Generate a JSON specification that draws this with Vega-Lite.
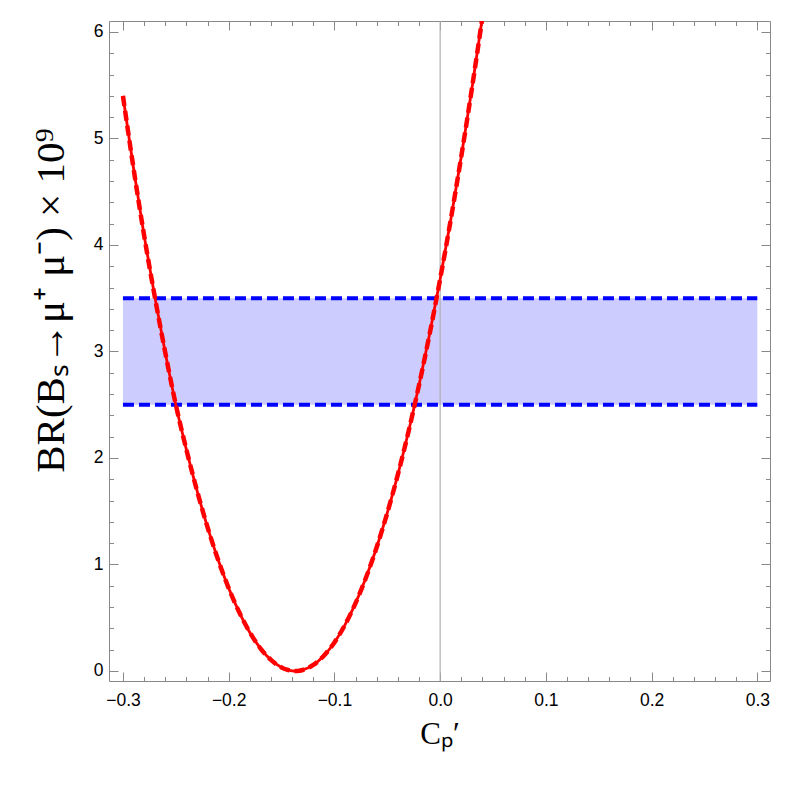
{
  "$schema": "https://vega.github.io/schema/vega-lite/v6.json",
  "width": 661,
  "height": 660,
  "autosize": "none",
  "padding": {"left": 109, "top": 21, "right": 22, "bottom": 117},
  "background": "white",
  "config": {
    "view": {"stroke": "#888888", "strokeWidth": 1},
    "axis": {"grid": false, "domain": false, "tickColor": "#888888", "tickWidth": 1, "labelFont": "Liberation Sans", "labelFontSize": 17.5, "labelColor": "black"}
  },
  "datasets": {
    "curve": [
      {"c": -0.30, "br": 5.40}, {"c": -0.29, "br": 4.72}, {"c": -0.28, "br": 4.09},
      {"c": -0.27, "br": 3.52}, {"c": -0.26, "br": 2.99}, {"c": -0.25, "br": 2.50},
      {"c": -0.24, "br": 2.079}, {"c": -0.23, "br": 1.695}, {"c": -0.22, "br": 1.350},
      {"c": -0.21, "br": 1.044}, {"c": -0.20, "br": 0.778}, {"c": -0.19, "br": 0.551},
      {"c": -0.18, "br": 0.362}, {"c": -0.17, "br": 0.213}, {"c": -0.16, "br": 0.104},
      {"c": -0.15, "br": 0.033}, {"c": -0.145, "br": 0.0125}, {"c": -0.14, "br": 0.0018},
      {"c": -0.137, "br": 0.0}, {"c": -0.133, "br": 0.0031}, {"c": -0.13, "br": 0.0096},
      {"c": -0.12, "br": 0.0566}, {"c": -0.11, "br": 0.143}, {"c": -0.10, "br": 0.268},
      {"c": -0.09, "br": 0.433}, {"c": -0.08, "br": 0.637}, {"c": -0.07, "br": 0.880},
      {"c": -0.06, "br": 1.162}, {"c": -0.05, "br": 1.484}, {"c": -0.04, "br": 1.844},
      {"c": -0.03, "br": 2.244}, {"c": -0.02, "br": 2.683}, {"c": -0.01, "br": 3.161},
      {"c": 0.00, "br": 3.679}, {"c": 0.01, "br": 4.235}, {"c": 0.02, "br": 4.831},
      {"c": 0.03, "br": 5.466}, {"c": 0.04, "br": 6.140}, {"c": 0.045, "br": 6.49}
    ],
    "band": [{"c1": -0.3, "c2": 0.3, "lo": 2.5, "hi": 3.5}],
    "limits": [{"c1": -0.3, "c2": 0.3, "br": 2.5}, {"c1": -0.3, "c2": 0.3, "br": 3.5}],
    "zero": [{"c": 0}]
  },
  "resolve": {"axis": {"x": "independent", "y": "independent"}},
  "layer": [
    {
      "data": {"name": "band"},
      "mark": {"type": "rect", "fill": "#ccccff", "stroke": null},
      "encoding": {
        "x": {"field": "c1", "type": "quantitative", "scale": {"domain": [-0.3132, 0.312], "nice": false, "zero": false},
              "axis": {"orient": "bottom", "values": [-0.3, -0.2, -0.1, 0.0, 0.1, 0.2, 0.3], "format": ".1f", "ticks": false, "labelPadding": 10, "labelFontSize": 17.5,
                       "title": "Cₚ′", "titleFont": "Liberation Serif", "titleFontSize": 31, "titleFontWeight": "normal", "titlePadding": 11, "titleColor": "black"}},
        "x2": {"field": "c2"},
        "y": {"field": "lo", "type": "quantitative", "scale": {"domain": [-0.094, 6.103], "nice": false, "zero": false},
              "axis": {"orient": "left", "values": [0, 1, 2, 3, 4, 5, 6], "ticks": false, "labelPadding": 6, "labelFontSize": 17.5,
                       "title": "BR(Bₛ→μ⁺ μ⁻) × 10⁹", "titleFont": "Liberation Serif", "titleFontSize": 41, "titleFontWeight": "normal", "titlePadding": 21, "titleColor": "black", "titleY": 279}},
        "y2": {"field": "hi"}
      }
    },
    {
      "data": {"name": "zero"},
      "mark": {"type": "rule", "color": "#b0b0b0", "strokeWidth": 1.2},
      "encoding": {"x": {"field": "c", "type": "quantitative", "axis": null}}
    },
    {
      "data": {"name": "limits"},
      "mark": {"type": "rule", "color": "#0000ff", "strokeWidth": 4, "strokeDash": [11, 5]},
      "encoding": {
        "x": {"field": "c1", "type": "quantitative",
              "axis": {"orient": "bottom", "labels": false, "title": null,
                       "values": [-0.3, -0.28, -0.26, -0.24, -0.22, -0.2, -0.18, -0.16, -0.14, -0.12, -0.1, -0.08, -0.06, -0.04, -0.02, 0, 0.02, 0.04, 0.06, 0.08, 0.1, 0.12, 0.14, 0.16, 0.18, 0.2, 0.22, 0.24, 0.26, 0.28, 0.3],
                       "tickSize": {"condition": {"test": "abs(datum.value*10 - round(datum.value*10)) < 0.000001", "value": -9}, "value": -4.5}}},
        "x2": {"field": "c2"},
        "y": {"field": "br", "type": "quantitative",
              "axis": {"orient": "left", "labels": false, "title": null,
                       "values": [0, 0.2, 0.4, 0.6, 0.8, 1, 1.2, 1.4, 1.6, 1.8, 2, 2.2, 2.4, 2.6, 2.8, 3, 3.2, 3.4, 3.6, 3.8, 4, 4.2, 4.4, 4.6, 4.8, 5, 5.2, 5.4, 5.6, 5.8, 6],
                       "tickSize": {"condition": {"test": "abs(datum.value - round(datum.value)) < 0.000001", "value": -9}, "value": -4.5}}}
      }
    },
    {
      "data": {"name": "curve"},
      "mark": {"type": "line", "color": "#ff0000", "strokeWidth": 2.8, "interpolate": "monotone", "clip": true},
      "encoding": {
        "x": {"field": "c", "type": "quantitative",
              "axis": {"orient": "top", "labels": false, "title": null,
                       "values": [-0.3, -0.28, -0.26, -0.24, -0.22, -0.2, -0.18, -0.16, -0.14, -0.12, -0.1, -0.08, -0.06, -0.04, -0.02, 0, 0.02, 0.04, 0.06, 0.08, 0.1, 0.12, 0.14, 0.16, 0.18, 0.2, 0.22, 0.24, 0.26, 0.28, 0.3],
                       "tickSize": {"condition": {"test": "abs(datum.value*10 - round(datum.value*10)) < 0.000001", "value": -9}, "value": -4.5}}},
        "y": {"field": "br", "type": "quantitative",
              "axis": {"orient": "right", "labels": false, "title": null,
                       "values": [0, 0.2, 0.4, 0.6, 0.8, 1, 1.2, 1.4, 1.6, 1.8, 2, 2.2, 2.4, 2.6, 2.8, 3, 3.2, 3.4, 3.6, 3.8, 4, 4.2, 4.4, 4.6, 4.8, 5, 5.2, 5.4, 5.6, 5.8, 6],
                       "tickSize": {"condition": {"test": "abs(datum.value - round(datum.value)) < 0.000001", "value": -9}, "value": -4.5}}}
      }
    },
    {
      "data": {"name": "curve"},
      "mark": {"type": "line", "color": "#ff0000", "strokeWidth": 4.5, "strokeDash": [10, 5], "interpolate": "monotone", "clip": true},
      "encoding": {
        "x": {"field": "c", "type": "quantitative", "axis": null},
        "y": {"field": "br", "type": "quantitative", "axis": null}
      }
    }
  ]
}
